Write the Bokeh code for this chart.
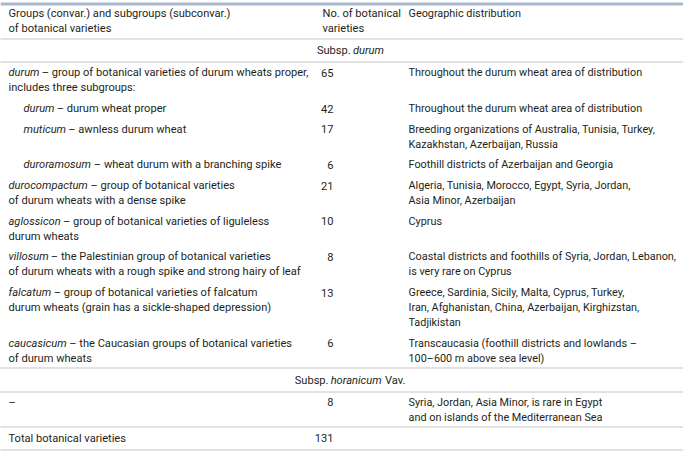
from bokeh.plotting import figure
from bokeh.models import Range1d
from bokeh.embed import file_html
from bokeh.resources import INLINE
from bokeh.core.properties import value

# ---------------- data ----------------
col_headers = [
    "Groups (convar.) and subgroups (subconvar.)\nof botanical varieties",
    "No. of botanical\nvarieties",
    "Geographic distribution",
]
sections = [("Subsp. ", "durum", ""), ("Subsp. ", "horanicum", " Vav.")]

durum_terms = ["durum", "durum", "muticum", "duroramosum", "durocompactum",
               "aglossicon", "villosum", "falcatum", "caucasicum"]
durum_descs = [
    "– group of botanical varieties of durum wheats proper,\nincludes three subgroups:",
    "– durum wheat proper",
    "– awnless durum wheat",
    "– wheat durum with a branching spike",
    "– group of botanical varieties\nof durum wheats with a dense spike",
    "– group of botanical varieties of liguleless\ndurum wheats",
    "– the Palestinian group of botanical varieties\nof durum wheats with a rough spike and strong hairy of leaf",
    "– group of botanical varieties of falcatum\ndurum wheats (grain has a sickle-shaped depression)",
    "– the Caucasian groups of botanical varieties\nof durum wheats",
]
durum_level = [0, 1, 1, 1, 0, 0, 0, 0, 0]
durum_counts = [65, 42, 17, 6, 21, 10, 8, 13, 6]
durum_distribution = [
    "Throughout the durum wheat area of distribution",
    "Throughout the durum wheat area of distribution",
    "Breeding organizations of Australia, Tunisia, Turkey,\nKazakhstan, Azerbaijan, Russia",
    "Foothill districts of Azerbaijan and Georgia",
    "Algeria, Tunisia, Morocco, Egypt, Syria, Jordan,\nAsia Minor, Azerbaijan",
    "Cyprus",
    "Coastal districts and foothills of Syria, Jordan, Lebanon,\nis very rare on Cyprus",
    "Greece, Sardinia, Sicily, Malta, Cyprus, Turkey,\nIran, Afghanistan, China, Azerbaijan, Kirghizstan,\nTadjikistan",
    "Transcaucasia (foothill districts and lowlands –\n100–600 m above sea level)",
]

horanicum_terms = [""]
horanicum_descs = ["–"]
horanicum_level = [0]
horanicum_counts = [8]
horanicum_distribution = ["Syria, Jordan, Asia Minor, is rare in Egypt\nand on islands of the Mediterranean Sea"]

total_label = "Total botanical varieties"
total_count = 131

# ---------------- layout / style ----------------
FONT = "Roboto"
FS = 11.1
FS_GEO = 10.85
TXT = "#231f20"
X_LEFT, X_INDENT, X_NUM_HEAD, X_NUM_R, X_GEO, X_CENTER = 8, 23, 322, 333, 408, 350
L, PAD, FIRST = 15.3, 6.0, 10.7
Y_TOP, Y_BOT, H = 466.0, 2.0, 452
SCALE = H / (Y_TOP - Y_BOT)

W = dict(zip("abcdefghijklmnopqrstuvwxyz",
             [.544, .548, .511, .55, .517, .34, .548, .538, .237, .233, .495, .237, .855,
              .539, .557, .548, .552, .331, .504, .319, .537, .473, .733, .484, .462, .484]))
W.update({" ": .248, "S": .593, ".": .263, "V": .636})


def tw(s):
    return sum(W.get(c, .56) for c in s) * FS


def crisp(yref):
    pic = (yref - Y_BOT) * SCALE
    return (round(pic - 0.5) + 0.5) / SCALE + Y_BOT


norm = dict(x=[], y=[], t=[])
ital = dict(x=[], y=[], t=[])
nums = dict(x=[], y=[], t=[])
geo = dict(x=[], y=[], t=[])
hlines = []


def add(d, x, y, t):
    d["x"].append(x); d["y"].append(y); d["t"].append(t)


y = 5.0
for xc, h, d in zip([X_LEFT, X_NUM_HEAD, X_GEO], col_headers, [norm, norm, geo]):
    for i, ln in enumerate(h.split("\n")):
        add(d, xc, y + FIRST + i * L, ln)
y += 2 * L + PAD
hlines.append(y)


def section(y, sec):
    a, b, c = sec
    total = tw(a) + tw(b) + tw(c)
    x0 = X_CENTER - total / 2
    add(norm, x0, y + 12, a.strip())
    add(ital, x0 + tw(a), y + 12, b)
    if c:
        add(norm, x0 + tw(a) + tw(b) + tw(" "), y + 12, c.strip())
    y += 24
    hlines.append(y)
    return y


def rows(y, terms, descs, levels, counts, dists):
    for term, desc, lev, cnt, dist in zip(terms, descs, levels, counts, dists):
        dl = desc.split("\n")
        gl = dist.split("\n")
        n = max(len(dl), len(gl))
        x0 = X_INDENT if lev else X_LEFT
        yy = y + FIRST
        if term:
            add(ital, x0, yy, term)
            add(norm, x0 + tw(term) + 2.0, yy, dl[0])
        else:
            add(norm, x0, yy, dl[0])
        for i, ln in enumerate(dl[1:], 1):
            add(norm, x0, yy + i * L, ln)
        add(nums, X_NUM_R, yy, str(cnt))
        for i, ln in enumerate(gl):
            add(geo, X_GEO, yy + i * L, ln)
        y += n * L + PAD
    return y


y = section(y, sections[0])
y = rows(y, durum_terms, durum_descs, durum_level, durum_counts, durum_distribution)
hlines.append(y)
y = section(y, sections[1])
y = rows(y, horanicum_terms, horanicum_descs, horanicum_level, horanicum_counts, horanicum_distribution)
hlines.append(y)
add(norm, X_LEFT, y + FIRST + 0.5, total_label)
add(nums, X_NUM_R, y + FIRST + 0.5, str(total_count))
y += L + PAD + 1.5
hlines.append(y)

# ---------------- figure ----------------
p = figure(width=683, height=H, output_backend="svg", toolbar_location=None,
           x_range=Range1d(0, 683), y_range=Range1d(Y_TOP, Y_BOT),
           x_axis_location=None, y_axis_location=None, min_border=0,
           outline_line_color=None, background_fill_color="white",
           border_fill_color="white")
p.grid.grid_line_color = None

# top blue rule
p.segment(x0=[0], x1=[683], y0=[5.5], y1=[5.5], line_color="#a7b7cf", line_width=3)

hy = [crisp(v) for v in hlines]
p.segment(x0=[0] * len(hy), x1=[683] * len(hy), y0=hy, y1=hy,
          line_color="#8a8a8a", line_width=1, line_dash="1 1")

common = dict(text_font=value(FONT), text_color=TXT, text_baseline="middle")
p.text(x=norm["x"], y=norm["y"], text=norm["t"], text_align="left",
       text_font_size=value(f"{FS}px"), **common)
p.text(x=ital["x"], y=ital["y"], text=ital["t"], text_align="left",
       text_font_style="italic", text_font_size=value(f"{FS}px"), **common)
p.text(x=nums["x"], y=nums["y"], text=nums["t"], text_align="right",
       text_font_size=value(f"{FS}px"), **common)
p.text(x=geo["x"], y=geo["y"], text=geo["t"], text_align="left",
       text_font_size=value(f"{FS_GEO}px"), **common)

open("out.html", "w").write(file_html(p, INLINE))
